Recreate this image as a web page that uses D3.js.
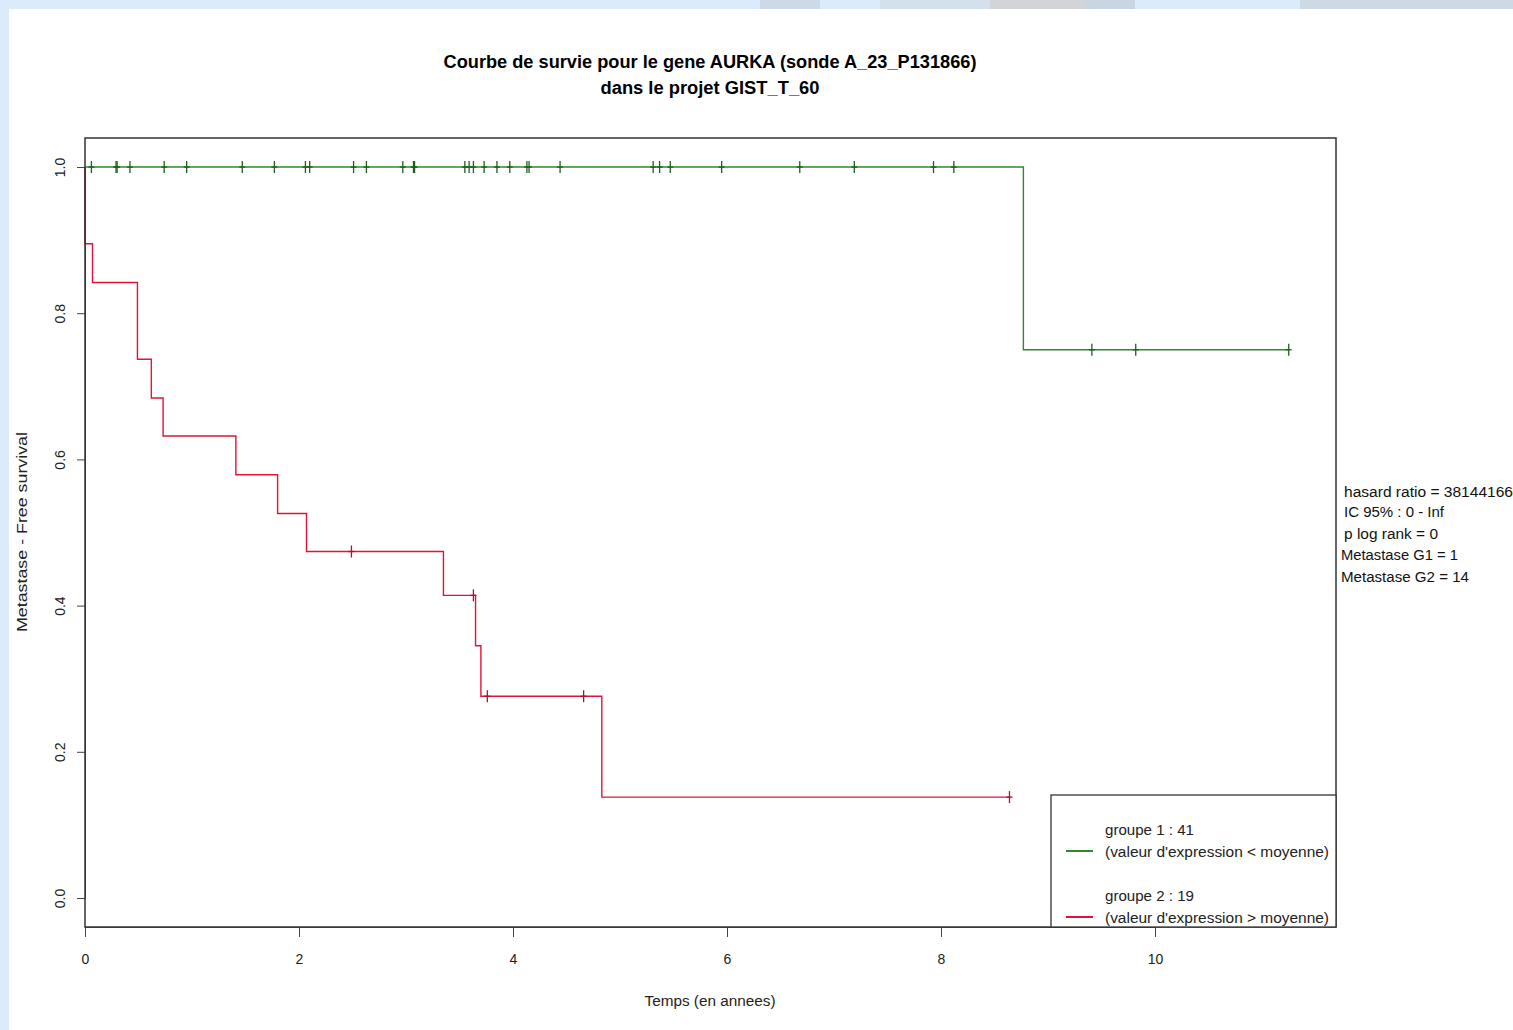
<!DOCTYPE html>
<html>
<head>
<meta charset="utf-8">
<script src="https://cdn.jsdelivr.net/npm/d3@7"></script>
<style>
  html, body { margin: 0; padding: 0; background: #dcebfb; }
  svg { display: block; font-family: "Liberation Sans", Arial, sans-serif; }
</style>
</head>
<body>
<svg id="chart" width="1513" height="1030"></svg>
<script>
// ---- data ----
const xTickValues = [0, 2, 4, 6, 8, 10];
const yTickValues = [0.0, 0.2, 0.4, 0.6, 0.8, 1.0];

// group 1 (green) Kaplan-Meier step points
const g1Times = [0, 8.77, 11.25];
const g1Surv  = [1.0, 0.75, 0.75];
const g1Censor = [0.06, 0.29, 0.30, 0.42, 0.74, 0.95, 1.47, 1.77, 2.06, 2.10, 2.51, 2.63,
                  2.97, 3.07, 3.08, 3.55, 3.59, 3.63, 3.73, 3.85, 3.97, 4.13, 4.15, 4.44,
                  5.31, 5.37, 5.47, 5.95, 6.68, 7.19, 7.93, 8.12, 9.41, 9.82, 11.25];

// group 2 (red) Kaplan-Meier step points
const g2Times = [0, 0, 0.07, 0.49, 0.62, 0.73, 1.41, 1.80, 2.07, 3.35, 3.65, 3.70, 4.83, 8.64];
const g2Surv  = [1.0, 0.895, 0.842, 0.737, 0.684, 0.632, 0.579, 0.526, 0.474, 0.414, 0.345, 0.276, 0.138, 0.138];
const g2Censor = [2.49, 3.63, 3.76, 4.66, 8.64];

const titleLines = ["Courbe de survie pour le gene AURKA (sonde A_23_P131866)", "dans le projet GIST_T_60"];
const xLabel = "Temps (en annees)";
const yLabel = "Metastase - Free survival";
const legendLabels = [
  ["groupe 1 : 41", "(valeur d'expression < moyenne)"],
  ["groupe 2 : 19", "(valeur d'expression > moyenne)"]
];
const statLines = ["hasard ratio = 38144166", "IC 95% : 0 - Inf", "p log rank = 0", "Metastase G1 = 1", "Metastase G2 = 14"];

// ---- drawing ----
const svg = d3.select("#chart");
const GREEN = "#2f8a2f", GREEN_D = "#1d5f1d";
const RED = "#e0143a", RED_D = "#a8142e";

// frame: light blue page with white panel
svg.append("rect").attr("x", 0).attr("y", 0).attr("width", 1513).attr("height", 1030).attr("fill", "#dcebfb");
[[760, 60, "#cdd9e6"], [880, 110, "#d4e0ec"], [990, 95, "#d2d4d8"], [1085, 50, "#c9d5e2"], [1300, 213, "#cfd9e3"]]
  .forEach(([x, w, c]) => svg.append("rect").attr("x", x).attr("y", 0).attr("width", w).attr("height", 9).attr("fill", c));
svg.append("rect").attr("x", 9).attr("y", 9).attr("width", 1504).attr("height", 1021).attr("fill", "#ffffff");

const box = {left: 85, right: 1336, top: 138, bottom: 927};
const x = d3.scaleLinear().domain([0, 10]).range([85, 1155]);
const y = d3.scaleLinear().domain([0, 1]).range([898, 167]);

// title
titleLines.forEach((t, i) => {
  svg.append("text").attr("x", 710).attr("y", 68 + i * 26)
    .attr("text-anchor", "middle").attr("font-weight", "bold").attr("font-size", 18)
    .attr("textLength", i === 0 ? 533 : 219).attr("lengthAdjust", "spacingAndGlyphs")
    .attr("fill", "#000").text(t);
});

// curves
const line = d3.line().x(d => x(d[0])).y(d => y(d[1])).curve(d3.curveStepAfter);
const g1Pts = g1Times.map((t, i) => [t, g1Surv[i]]);
const g2Pts = [[0, 1.0]].concat(g2Times.slice(1).map((t, i) => [t, g2Surv[i + 1]]));

svg.append("path").datum(g2Pts).attr("d", line).attr("fill", "none")
  .attr("stroke", RED).attr("stroke-width", 1.4);
svg.append("path").datum(g1Pts).attr("d", line).attr("fill", "none")
  .attr("stroke", GREEN).attr("stroke-width", 1.4);

function stepValue(times, surv, t) {
  let v = surv[0];
  for (let i = 0; i < times.length; i++) if (times[i] <= t) v = surv[i];
  return v;
}
function censorMarks(arr, times, surv, col) {
  const g = svg.append("g").attr("stroke", col).attr("stroke-width", 1.3);
  arr.forEach(t => {
    const cx = x(t), cy = y(stepValue(times, surv, t));
    g.append("line").attr("x1", cx).attr("x2", cx).attr("y1", cy - 6).attr("y2", cy + 6);
    g.append("line").attr("x1", cx - 3).attr("x2", cx + 3).attr("y1", cy).attr("y2", cy);
  });
}
censorMarks(g1Censor, g1Times, g1Surv, GREEN_D);
censorMarks(g2Censor, g2Times, g2Surv, RED_D);

// axes
const xAxis = svg.append("g").attr("transform", `translate(0,${box.bottom})`)
  .call(d3.axisBottom(x).tickValues(xTickValues).tickFormat(d3.format("d")).tickSize(10).tickSizeOuter(0).tickPadding(17));
xAxis.selectAll("text").attr("font-size", 14).attr("font-family", "Liberation Sans, Arial, sans-serif").attr("fill", "#222");
xAxis.selectAll("line, path").attr("stroke", "#444");

const yAxis = svg.append("g").attr("transform", `translate(${box.left},0)`)
  .call(d3.axisLeft(y).tickValues(yTickValues).tickFormat(d3.format(".1f")).tickSize(8).tickSizeOuter(0));
yAxis.selectAll("text").attr("x", null).attr("dy", null).attr("y", null)
  .attr("text-anchor", "middle").attr("transform", "translate(-20,0) rotate(-90)")
  .attr("font-size", 14).attr("font-family", "Liberation Sans, Arial, sans-serif").attr("fill", "#222");
yAxis.selectAll("line, path").attr("stroke", "#444");

// plot box
svg.append("rect").attr("x", box.left).attr("y", box.top)
  .attr("width", box.right - box.left).attr("height", box.bottom - box.top)
  .attr("fill", "none").attr("stroke", "#333").attr("stroke-width", 1.5);

// axis labels
svg.append("text").attr("x", 710).attr("y", 1006).attr("text-anchor", "middle")
  .attr("font-size", 14).attr("textLength", 131).attr("lengthAdjust", "spacingAndGlyphs")
  .attr("fill", "#222").text(xLabel);
svg.append("text").attr("transform", "translate(27,532) rotate(-90)").attr("text-anchor", "middle")
  .attr("font-size", 14).attr("textLength", 200).attr("lengthAdjust", "spacingAndGlyphs")
  .attr("fill", "#222").text(yLabel);

// legend
const lg = svg.append("g");
lg.append("rect").attr("x", 1051).attr("y", 795).attr("width", 285).attr("height", 132)
  .attr("fill", "#fff").attr("stroke", "#333").attr("stroke-width", 1.3);
const legCols = [GREEN, RED];
legendLabels.forEach((pair, i) => {
  const baseY = 835 + i * 66;
  lg.append("line").attr("x1", 1066).attr("x2", 1093).attr("y1", baseY + 16).attr("y2", baseY + 16)
    .attr("stroke", legCols[i]).attr("stroke-width", 2);
  lg.append("text").attr("x", 1105).attr("y", baseY).attr("font-size", 14)
    .attr("textLength", 89).attr("lengthAdjust", "spacingAndGlyphs").attr("fill", "#222").text(pair[0]);
  lg.append("text").attr("x", 1105).attr("y", baseY + 22).attr("font-size", 14)
    .attr("textLength", 224).attr("lengthAdjust", "spacingAndGlyphs").attr("fill", "#222").text(pair[1]);
});

// side statistics text
const statX = [1344, 1344, 1344, 1341, 1341];
const statY = [497, 517, 539, 560, 582];
const statW = [169, 100, 94, 117, 128];
statLines.forEach((t, i) => {
  svg.append("text").attr("x", statX[i]).attr("y", statY[i]).attr("font-size", 14)
    .attr("textLength", statW[i]).attr("lengthAdjust", "spacingAndGlyphs")
    .attr("fill", "#111").text(t);
});
</script>
</body>
</html>
